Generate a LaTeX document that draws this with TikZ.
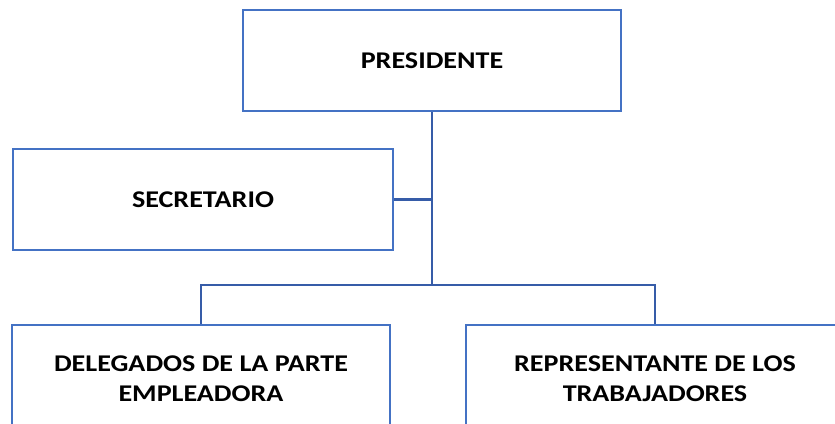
\documentclass[tikz,border=0pt]{standalone}
\usepackage{fontspec}
\setmainfont{Carlito}[FakeStretch=1.17]
\definecolor{orgblue}{RGB}{68,114,196}
\definecolor{linkblue}{RGB}{54,92,168}
\tikzset{cargo/.style={draw=orgblue,line width=2.6pt,minimum width=378pt,minimum height=101pt,align=center,font=\bfseries\fontsize{24}{30}\selectfont},
         link/.style={draw=linkblue,line width=2.8pt}}
\begin{document}
\begin{tikzpicture}[x=1pt,y=1pt]
	\clip (0,0) rectangle (835,-423);
	\node[cargo] (pres) at (432,-60.5) {PRESIDENTE};
	\node[cargo,minimum width=380pt] (sec) at (203,-199.5) {SECRETARIO};
	\node[cargo,minimum height=107pt] (del) at (201,-378.5) {DELEGADOS DE LA PARTE\\EMPLEADORA};
	\node[cargo,minimum height=107pt] (rep) at (655,-378.5) {REPRESENTANTE DE LOS\\TRABAJADORES};
	\coordinate (bus) at (432,-285);
	\draw[link] (pres.south) -- (bus);
	\draw[link] (sec.east) -- (sec.east -| bus);
	\draw[link] (del.north) |- (bus) -| (rep.north);
\end{tikzpicture}
\end{document}
